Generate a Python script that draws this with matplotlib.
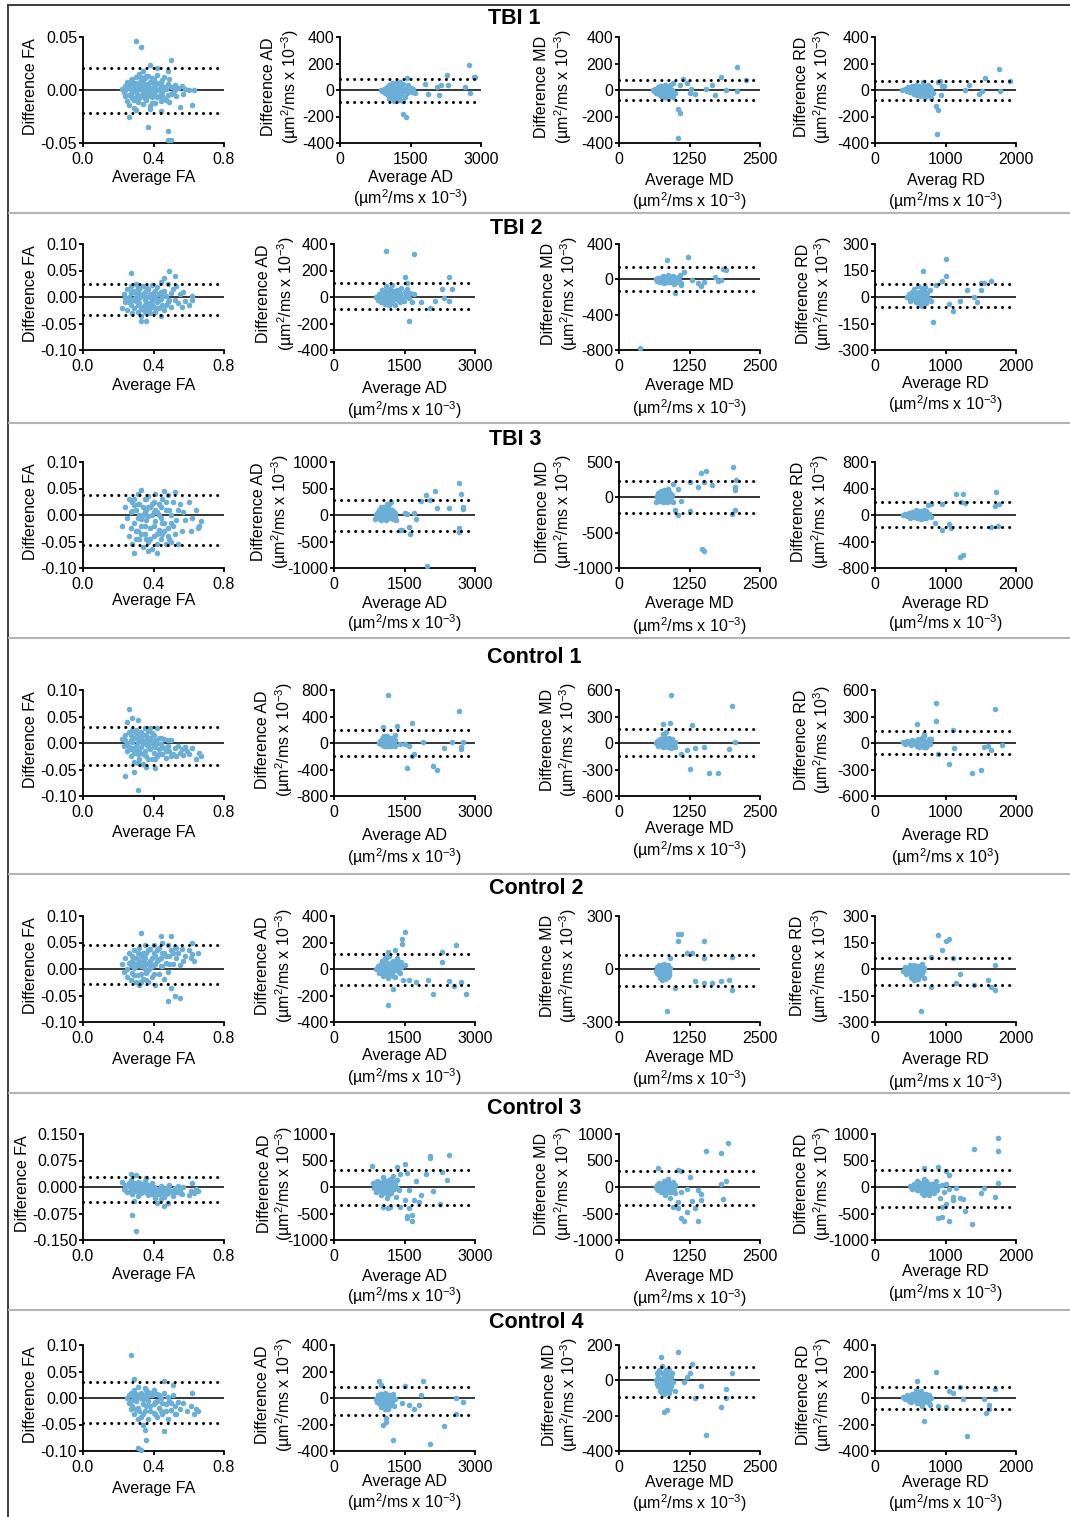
import numpy as np
import matplotlib.pyplot as plt
from matplotlib.lines import Line2D

plt.rcParams['font.family'] = ['Liberation Sans', 'DejaVu Sans']
plt.rcParams['mathtext.fontset'] = 'custom'
plt.rcParams['mathtext.rm'] = 'Liberation Sans'
plt.rcParams['mathtext.it'] = 'Liberation Sans:italic'
plt.rcParams['mathtext.bf'] = 'Liberation Sans:bold'
plt.rcParams['axes.unicode_minus'] = False

# ---- data: (average, difference) pairs ----
tbi1_fa = [(0.22, 0.001), (0.23, -0.002), (0.24, 0.004), (0.24, -0.006), (0.25, 0.008), (0.25, -0.010),
           (0.26, 0.002), (0.26, -0.014), (0.27, 0.006), (0.27, -0.004), (0.28, 0.010), (0.28, -0.008),
           (0.29, 0.003), (0.29, -0.017), (0.30, 0.012), (0.30, -0.002), (0.31, 0.007), (0.31, -0.011),
           (0.32, 0.001), (0.32, 0.015), (0.33, -0.006), (0.33, 0.009), (0.34, -0.013), (0.34, 0.004),
           (0.35, 0.011), (0.35, -0.003), (0.36, 0.006), (0.36, -0.009), (0.37, 0.013), (0.37, -0.001),
           (0.38, 0.008), (0.38, -0.015), (0.39, 0.002), (0.39, -0.007), (0.40, 0.010), (0.40, -0.004),
           (0.41, 0.005), (0.41, -0.012), (0.42, 0.014), (0.42, 0.000), (0.43, -0.006), (0.43, 0.007),
           (0.44, 0.003), (0.44, -0.010), (0.45, 0.009), (0.45, -0.002), (0.46, 0.012), (0.46, -0.008),
           (0.47, 0.001), (0.48, 0.006), (0.48, -0.005), (0.49, 0.010), (0.49, -0.011), (0.50, 0.003),
           (0.51, -0.003), (0.52, 0.005), (0.53, -0.006), (0.54, 0.002), (0.55, -0.016), (0.56, 0.004),
           (0.57, -0.004), (0.58, 0.001), (0.60, 0.000), (0.62, -0.014), (0.63, 0.000), (0.27, 0.001),
           (0.29, 0.007), (0.31, -0.005), (0.33, 0.002), (0.35, -0.008), (0.37, 0.004), (0.39, 0.011),
           (0.41, -0.001), (0.30, -0.019), (0.34, 0.018), (0.30, 0.046), (0.33, 0.041), (0.50, 0.028),
           (0.38, 0.024), (0.42, 0.021), (0.48, 0.018), (0.26, -0.025), (0.37, -0.035), (0.48, -0.039),
           (0.48, -0.047), (0.50, -0.047), (0.44, -0.020), (0.38, -0.018),
           (0.25, 0.003), (0.26, -0.005), (0.27, 0.009), (0.28, -0.001), (0.29, -0.009), (0.30, 0.006),
           (0.31, 0.001), (0.32, -0.008), (0.33, 0.012), (0.34, -0.002), (0.35, 0.004), (0.36, 0.000),
           (0.36, 0.013), (0.37, -0.006), (0.38, 0.002), (0.39, -0.012), (0.40, 0.005), (0.41, 0.008),
           (0.42, -0.007), (0.43, 0.001), (0.44, 0.006), (0.45, -0.006), (0.47, -0.009), (0.50, -0.004),
           (0.52, 0.000), (0.24, 0.000), (0.28, 0.004), (0.32, 0.005), (0.34, 0.008), (0.38, -0.003),
           (0.40, 0.001), (0.44, -0.004), (0.46, 0.003), (0.26, 0.006), (0.30, -0.007)]
tbi1_ad = [(870, 0), (900, -10), (930, 10), (950, -20), (980, 5), (1000, -30), (1010, 20), (1030, -5),
           (1050, 40), (1060, -45), (1080, 10), (1100, -15), (1110, 55), (1120, -60), (1140, 25), (1150, -35),
           (1170, 0), (1180, 45), (1200, -70), (1210, 15), (1230, -20), (1240, 30), (1260, -50), (1270, 60),
           (1290, 5), (1300, -30), (1310, 20), (1330, -80), (1340, 45), (1360, -10), (1380, -55), (1400, 10),
           (1420, -25), (1450, 35), (1480, -5), (1500, 15), (1530, -15), (1560, 10), (1600, -20), (1050, -70),
           (1150, -80), (1250, -75), (1100, 30), (1200, 50), (1320, 0), (1350, -180), (1400, -205),
           (1420, 90), (1800, 45), (1880, -30), (2060, 25), (2100, -40), (2150, 40), (2280, 115), (2300, 40),
           (2650, 20), (2750, 190), (2760, -20), (2850, 100), (2880, 95),
           (1000, 0), (1030, -40), (1070, 25), (1090, -30), (1120, 5), (1160, -55), (1190, 20), (1220, -45),
           (1250, 0), (1280, -35), (1150, 10), (1200, -10), (1100, -50), (1240, -60), (1300, 35), (1130, 40)]
tbi1_md = [(600, 0), (620, -10), (640, 5), (660, -20), (680, 10), (690, -5), (700, 20), (710, -30), (720, 0),
           (730, 15), (740, -15), (750, 30), (760, -40), (770, 5), (780, -10), (790, 20), (800, -25), (810, 35),
           (820, -50), (830, 0), (840, 10), (850, -35), (860, 25), (870, -60), (880, -5), (890, 15), (900, -45),
           (910, 40), (920, -20), (940, 0), (950, -55), (760, -20), (820, 20), (700, -15), (960, 55), (1000, -20),
           (1050, -140), (1080, -170), (1050, -360), (1080, 40), (1130, 80), (1200, 55), (1250, -20), (1280, 10),
           (1350, -30), (1550, 10), (1650, 40), (1700, -35), (1800, 100), (1900, 0), (2100, 170), (2100, -10),
           (2250, 75),
           (680, -25), (700, 5), (720, -20), (740, 25), (760, 0), (780, -35), (800, 10), (820, -10), (840, -30),
           (860, 0), (880, 20), (900, -10), (740, -45), (800, -50), (860, -50), (720, 30)]
tbi1_rd = [(390, 0), (420, 10), (450, -5), (470, 20), (490, -15), (510, 5), (520, 30), (540, -25), (550, 10),
           (570, -10), (580, 40), (600, -35), (610, 15), (630, 0), (640, -45), (650, 25), (660, -10), (680, 60),
           (690, -20), (700, 5), (710, -55), (720, 30), (730, -30), (740, 10), (750, -40), (760, 20), (770, -15),
           (790, -60), (800, 5), (820, -25), (560, -30), (620, 30), (680, -40), (750, 40), (870, -120),
           (890, -150), (880, -330), (900, 60), (920, 70), (950, 30), (980, 30), (930, -40), (1280, 0),
           (1340, 40), (1480, -30), (1520, -10), (1560, 90), (1760, 155), (1770, -10), (1920, 65),
           (500, -5), (530, 10), (560, 20), (590, -15), (610, -20), (640, 10), (660, 15), (680, 0), (700, -15),
           (720, -10), (740, -30), (760, 0), (780, 25), (700, 30), (620, -5), (580, 5)]

tbi2_fa = [(0.22, -0.020), (0.23, 0.005), (0.24, -0.010), (0.25, 0.015), (0.25, -0.025), (0.26, 0.000),
           (0.27, -0.015), (0.27, 0.020), (0.28, -0.005), (0.28, -0.030), (0.29, 0.010), (0.29, -0.020),
           (0.30, 0.025), (0.30, -0.008), (0.31, 0.005), (0.31, -0.028), (0.32, -0.012), (0.32, 0.015),
           (0.33, -0.035), (0.33, 0.002), (0.34, 0.020), (0.34, -0.018), (0.35, -0.005), (0.35, 0.010),
           (0.36, -0.025), (0.36, 0.000), (0.37, 0.015), (0.37, -0.012), (0.38, -0.030), (0.38, 0.005),
           (0.39, 0.022), (0.39, -0.008), (0.40, -0.018), (0.40, 0.010), (0.41, 0.000), (0.41, -0.028),
           (0.42, 0.018), (0.42, -0.010), (0.43, 0.005), (0.43, -0.020), (0.44, 0.028), (0.44, -0.003),
           (0.45, -0.015), (0.46, 0.012), (0.46, -0.025), (0.47, 0.002), (0.48, 0.025), (0.48, -0.010),
           (0.50, 0.008), (0.50, -0.018), (0.51, 0.015), (0.52, -0.005), (0.53, 0.020), (0.54, -0.012),
           (0.55, 0.005), (0.56, -0.018), (0.57, 0.010), (0.58, -0.008), (0.60, -0.015), (0.62, -0.005),
           (0.62, 0.002), (0.30, 0.000), (0.32, -0.002), (0.35, -0.015), (0.38, -0.020), (0.27, 0.046),
           (0.49, 0.050), (0.52, 0.040), (0.46, 0.035), (0.36, -0.045), (0.33, -0.045), (0.44, -0.035),
           (0.24, -0.002), (0.26, -0.010), (0.27, 0.008), (0.29, -0.003), (0.30, 0.012), (0.31, -0.015),
           (0.32, 0.005), (0.33, -0.022), (0.34, 0.005), (0.35, -0.028), (0.36, 0.018), (0.37, -0.020),
           (0.38, 0.000), (0.39, -0.015), (0.40, 0.000), (0.41, 0.012), (0.42, -0.020), (0.43, -0.005),
           (0.44, 0.010), (0.45, 0.002), (0.47, -0.015), (0.49, -0.005), (0.31, 0.018), (0.28, 0.012),
           (0.35, 0.020)]
tbi2_ad = [(900, 0), (930, -20), (960, 20), (990, -40), (1000, 10), (1020, 50), (1040, -10), (1060, 30),
           (1080, -55), (1100, 80), (1110, 0), (1130, -30), (1150, 40), (1170, -15), (1190, 60), (1200, -50),
           (1220, 10), (1240, 90), (1260, -25), (1280, 30), (1300, -60), (1320, 0), (1340, 50), (1360, -20),
           (1380, 20), (1400, -40), (1420, 70), (1450, 0), (1480, -30), (1500, 40), (1530, 10), (1560, 60),
           (1600, -10), (1620, 30), (1650, -40), (1700, 20), (1150, -45), (1250, 45), (1050, 25), (1100, 345),
           (1700, 325), (1500, 150), (1600, -180), (1550, 105), (1850, -40), (2050, -85), (2150, -30),
           (2300, 60), (2350, -10), (2450, 150), (2450, -30), (2500, 60),
           (1000, -25), (1050, 0), (1100, -30), (1120, 20), (1160, 10), (1200, 30), (1230, -20), (1270, 0),
           (1310, 20), (1350, -10), (1400, 30), (1180, -60), (1080, 45), (1440, -20)]
tbi2_md = [(650, 0), (680, -15), (700, 20), (720, -30), (740, 10), (760, -5), (780, 35), (800, -45), (820, 15),
           (840, -20), (860, 50), (880, 0), (900, -35), (920, 25), (940, -10), (960, 40), (980, -55), (1000, 10),
           (1020, -25), (1040, 30), (1060, -5), (1080, 45), (1100, -60), (800, 5), (900, 10), (950, -20),
           (750, -25), (380, -780), (850, 215), (1230, 255), (1150, 80), (1000, -160), (1100, -40), (1300, -10),
           (1400, -40), (1500, -30), (1450, -80), (1700, 30), (1750, -20), (1800, -5), (1850, 120), (1900, 100),
           (700, -5), (730, 15), (770, -15), (790, 25), (830, -5), (850, 20), (870, -25), (890, 30), (910, -5),
           (930, 5), (990, 20), (1030, 0)]
tbi2_rd = [(450, 0), (480, 15), (500, -20), (520, 30), (540, -10), (560, 45), (580, -30), (600, 5), (610, 60),
           (620, -40), (640, 20), (650, -15), (660, 50), (670, -50), (680, 10), (690, 35), (700, -25), (710, 55),
           (720, 0), (730, -35), (740, 25), (760, -10), (780, 40), (800, -20), (600, -5), (700, 15), (680, 150),
           (1000, 215), (820, -140), (870, 70), (950, 90), (1000, 120), (1050, -40), (1100, -80), (1200, -20),
           (1300, 40), (1400, 0), (1450, -30), (1500, 80), (1500, 40), (1550, 80), (1650, 90),
           (500, 5), (530, -5), (560, 10), (590, 20), (620, 30), (640, -20), (660, 5), (680, -30), (700, 40),
           (720, 20), (740, -5), (660, -40), (590, -10)]

tbi3_fa = [(0.22, -0.020), (0.24, 0.015), (0.25, -0.005), (0.26, 0.030), (0.26, -0.040), (0.27, 0.005),
           (0.28, -0.055), (0.28, 0.025), (0.29, -0.015), (0.30, 0.010), (0.30, -0.030), (0.31, 0.040),
           (0.31, -0.005), (0.32, -0.045), (0.32, 0.020), (0.33, 0.048), (0.33, -0.020), (0.34, 0.000),
           (0.34, -0.060), (0.35, 0.030), (0.35, -0.035), (0.36, 0.010), (0.36, -0.010), (0.37, -0.050),
           (0.37, 0.035), (0.38, -0.025), (0.38, 0.015), (0.39, -0.065), (0.39, 0.000), (0.40, 0.025),
           (0.40, -0.040), (0.41, -0.012), (0.41, 0.040), (0.42, -0.055), (0.42, 0.005), (0.43, -0.028),
           (0.43, 0.020), (0.44, -0.045), (0.44, -0.005), (0.45, 0.030), (0.45, -0.035), (0.46, 0.045),
           (0.46, -0.015), (0.47, -0.055), (0.47, 0.010), (0.48, -0.025), (0.48, 0.038), (0.49, -0.045),
           (0.50, 0.000), (0.50, -0.050), (0.51, 0.025), (0.51, -0.020), (0.52, 0.044), (0.53, -0.010),
           (0.54, 0.010), (0.55, 0.020), (0.56, -0.030), (0.57, 0.005), (0.58, -0.010), (0.60, 0.025),
           (0.61, -0.030), (0.62, -0.005), (0.64, 0.010), (0.65, -0.025), (0.66, -0.020), (0.67, -0.012),
           (0.29, 0.018), (0.33, -0.008), (0.35, 0.005), (0.37, -0.002), (0.29, -0.072), (0.37, -0.068),
           (0.42, -0.072), (0.54, -0.055),
           (0.27, -0.025), (0.29, 0.030), (0.30, -0.045), (0.31, 0.020), (0.32, 0.000), (0.33, -0.035),
           (0.34, 0.015), (0.35, -0.020), (0.36, 0.030), (0.37, 0.015), (0.38, -0.045), (0.39, 0.020),
           (0.40, -0.020), (0.41, 0.010), (0.42, -0.035), (0.43, 0.000), (0.44, 0.015), (0.45, -0.015),
           (0.46, -0.030), (0.47, 0.025), (0.48, -0.040), (0.49, 0.010), (0.50, -0.015), (0.52, -0.035),
           (0.28, 0.008), (0.31, -0.030), (0.36, -0.045), (0.40, 0.005)]
tbi3_ad = [(880, -80), (900, 0), (920, 40), (940, -60), (960, 100), (980, -20), (1000, 60), (1010, -100),
           (1030, 20), (1050, 150), (1060, -40), (1080, 80), (1100, -80), (1110, 0), (1130, 200), (1140, -60),
           (1160, 40), (1180, 120), (1200, -30), (1210, 250), (1230, 10), (1250, -70), (1270, 60), (1290, -20),
           (1300, 30), (1320, -100), (1050, -20), (1150, 10), (1200, 70), (1100, 50), (1400, -280), (1450, -290),
           (1500, 40), (1550, 20), (1600, -220), (1620, -350), (1700, 40), (1750, -80), (1850, 260), (1950, 380),
           (1970, -960), (2050, 290), (2150, 460), (2200, 140), (2450, 130), (2650, 600), (2650, -250),
           (2650, -330), (2700, 390), (2750, 160), (2750, 110),
           (950, 30), (990, -40), (1020, 80), (1040, -60), (1060, 40), (1090, -20), (1120, 120), (1150, -30),
           (1170, 80), (1190, 0), (1220, -50), (1240, 100), (1260, 20), (1280, -40), (1000, 150), (1110, -90),
           (1180, 200)]
tbi3_md = [(650, -60), (670, 20), (690, -30), (700, 60), (720, 0), (730, -50), (740, 90), (760, -20), (770, 40),
           (780, -70), (790, 110), (800, 10), (810, -40), (820, 70), (830, -10), (840, 30), (850, -60), (860, 120),
           (870, 0), (880, -30), (890, 50), (900, -55), (910, 20), (920, -15), (940, 40), (950, -65), (760, 30),
           (820, -25), (880, 80), (950, 190), (1000, -180), (1050, -250), (1050, 120), (1100, -50), (1250, 210),
           (1250, -200), (1400, 140), (1450, 340), (1480, -730), (1510, -760), (1500, 210), (1550, 370),
           (1650, 180), (2000, -240), (2030, 430), (2050, 140), (2050, 110), (2050, -180), (2070, 240),
           (680, 0), (710, 30), (730, -20), (750, 50), (770, 0), (790, -20), (800, 80), (820, 20), (840, -40),
           (860, 50), (870, -50), (890, 10), (900, 60), (760, -50), (830, 100), (720, 80)]
tbi3_rd = [(400, 0), (430, 15), (460, -20), (480, 30), (500, -40), (520, 10), (540, 50), (550, -30), (570, 0),
           (580, 70), (600, -50), (610, 20), (630, -10), (640, 60), (650, -60), (660, 30), (680, -20), (690, 80),
           (700, 0), (720, -40), (730, 40), (750, -15), (770, 20), (790, -30), (600, 35), (560, -10), (680, 45),
           (750, 150), (800, 160), (850, -120), (950, 170), (950, -220), (1050, -130), (1080, -200), (1150, 320),
           (1200, -630), (1250, -610), (1250, 320), (1220, 200), (1270, 180), (1650, -180), (1700, 130),
           (1720, 340), (1750, -170), (1760, 160),
           (450, 10), (490, -10), (520, 40), (560, 20), (590, -30), (620, 50), (640, -20), (660, 0), (700, 30),
           (720, 60), (740, -20), (760, 10), (620, -40), (580, 30), (680, -50)]

ctrl1_fa = [(0.22, 0.008), (0.23, -0.005), (0.24, 0.015), (0.25, -0.015), (0.25, 0.000), (0.26, 0.020),
            (0.27, -0.025), (0.27, 0.005), (0.28, -0.010), (0.28, 0.025), (0.29, -0.035), (0.29, 0.010),
            (0.30, -0.005), (0.30, 0.018), (0.31, -0.020), (0.31, 0.002), (0.32, 0.012), (0.32, -0.030),
            (0.33, -0.008), (0.33, 0.020), (0.34, 0.000), (0.34, -0.040), (0.35, 0.015), (0.35, -0.015),
            (0.36, 0.005), (0.36, -0.025), (0.37, 0.022), (0.37, -0.005), (0.38, -0.012), (0.38, 0.010),
            (0.39, -0.030), (0.39, 0.000), (0.40, 0.015), (0.40, -0.018), (0.41, 0.005), (0.41, -0.008),
            (0.42, -0.025), (0.43, 0.010), (0.43, -0.012), (0.44, -0.002), (0.45, -0.020), (0.46, 0.008),
            (0.46, -0.010), (0.47, -0.028), (0.48, -0.005), (0.49, -0.015), (0.50, 0.005), (0.51, -0.020),
            (0.52, -0.010), (0.53, -0.025), (0.54, -0.005), (0.55, -0.018), (0.56, -0.012), (0.57, -0.022),
            (0.58, -0.008), (0.59, -0.015), (0.60, -0.020), (0.62, -0.010), (0.64, -0.030), (0.66, -0.018),
            (0.67, -0.025), (0.33, 0.005), (0.36, -0.002), (0.30, -0.012), (0.26, 0.065), (0.28, 0.047),
            (0.25, 0.040), (0.31, 0.043), (0.38, 0.028), (0.42, 0.028), (0.24, -0.062), (0.29, -0.055),
            (0.31, -0.088), (0.41, -0.048), (0.36, -0.045),
            (0.24, 0.005), (0.26, -0.008), (0.27, 0.015), (0.28, 0.002), (0.29, -0.018), (0.30, 0.025),
            (0.31, 0.010), (0.32, -0.015), (0.33, 0.012), (0.34, -0.020), (0.35, 0.003), (0.36, 0.015),
            (0.37, -0.030), (0.38, 0.002), (0.39, 0.018), (0.40, -0.005), (0.41, -0.030), (0.42, 0.000),
            (0.43, -0.020), (0.44, 0.010), (0.45, -0.008), (0.47, -0.015), (0.48, 0.005), (0.50, -0.025),
            (0.31, -0.038), (0.27, -0.012), (0.35, 0.028)]
ctrl1_ad = [(950, 0), (980, 30), (1000, -20), (1020, 60), (1040, 10), (1060, -40), (1080, 80), (1100, 20),
            (1110, -10), (1130, 100), (1150, -50), (1170, 40), (1190, 0), (1210, -30), (1230, 70), (1250, 10),
            (1270, -20), (1290, 50), (1300, -45), (1060, -15), (1120, 45), (1180, -25), (1000, 35), (1050, 90),
            (1150, 720), (1050, 240), (1350, 250), (1650, 300), (1300, 120), (1400, -20), (1500, -20),
            (1550, -380), (1650, -200), (1700, -160), (1900, 20), (2100, -350), (2200, -410), (2350, -80),
            (2500, 20), (2650, 490), (2700, -60), (2750, 10), (2700, -90), (1600, -40),
            (1000, -10), (1030, 20), (1070, -25), (1090, 40), (1120, 0), (1140, 70), (1160, -20), (1200, 20),
            (1220, -50), (1240, 40), (1280, -10), (1100, -40), (1180, 80), (1060, 110)]
ctrl1_md = [(650, 0), (680, 20), (700, -30), (720, 50), (740, -10), (760, 10), (780, -50), (800, 80), (810, 0),
            (820, -20), (840, 120), (850, 30), (860, -40), (880, 60), (890, -10), (900, 20), (920, -60), (940, 40),
            (960, 0), (980, -30), (1000, 10), (760, 40), (830, -35), (870, 5), (930, 540), (900, 230), (780, 220),
            (1000, -40), (1100, -120), (1200, -80), (1250, -290), (1300, 200), (1350, -60), (1500, -40),
            (1600, -340), (1750, -340), (1950, -70), (2000, 420), (2050, 10),
            (700, 10), (730, -20), (750, 30), (770, -5), (790, 20), (800, -30), (830, 40), (850, -10), (870, 30),
            (900, -30), (930, 0), (950, -20), (780, 100), (820, 60)]
ctrl1_rd = [(400, 10), (430, -10), (460, 20), (490, 0), (510, -20), (530, 30), (550, -5), (570, 15), (590, -30),
            (610, 40), (620, 0), (640, -15), (660, 60), (670, 20), (690, -40), (700, 80), (720, 0), (740, -20),
            (760, 30), (780, -10), (800, 50), (650, -25), (580, 25), (600, 220), (870, 450), (870, 250),
            (900, -120), (1050, -240), (1100, 150), (1120, -60), (1380, -340), (1500, -310), (1550, -40),
            (1600, -30), (1650, -80), (1700, 390), (1800, -20),
            (450, 0), (480, 15), (520, -10), (560, 20), (600, 5), (630, 30), (650, 10), (680, -10), (700, 20),
            (730, -40), (750, 0), (770, 40), (620, -40), (690, 100)]

ctrl2_fa = [(0.22, 0.010), (0.23, -0.005), (0.24, 0.020), (0.25, 0.000), (0.25, -0.015), (0.26, 0.030),
            (0.27, 0.008), (0.27, -0.020), (0.28, 0.015), (0.28, -0.008), (0.29, 0.035), (0.29, 0.002),
            (0.30, -0.025), (0.30, 0.020), (0.31, 0.010), (0.31, -0.012), (0.32, 0.040), (0.32, -0.030),
            (0.33, 0.005), (0.33, 0.025), (0.34, -0.018), (0.34, 0.015), (0.35, 0.000), (0.35, 0.045),
            (0.36, -0.008), (0.36, 0.030), (0.37, 0.012), (0.37, -0.025), (0.38, 0.038), (0.38, 0.002),
            (0.39, -0.015), (0.39, 0.020), (0.40, 0.045), (0.40, 0.008), (0.41, -0.030), (0.41, 0.025),
            (0.42, 0.015), (0.43, -0.010), (0.43, 0.040), (0.44, 0.020), (0.45, 0.005), (0.45, 0.050),
            (0.46, -0.018), (0.46, 0.030), (0.47, 0.012), (0.48, 0.045), (0.48, -0.005), (0.49, 0.025),
            (0.50, 0.035), (0.51, 0.010), (0.52, 0.042), (0.53, 0.020), (0.54, 0.030), (0.55, 0.008),
            (0.56, 0.038), (0.57, 0.015), (0.58, 0.025), (0.60, 0.035), (0.61, 0.020), (0.62, 0.028),
            (0.63, 0.015), (0.65, 0.030), (0.30, 0.005), (0.34, 0.008), (0.37, -0.002), (0.33, 0.068),
            (0.44, 0.062), (0.50, 0.062), (0.62, 0.050), (0.50, -0.035), (0.52, -0.050), (0.55, -0.055),
            (0.48, -0.060),
            (0.26, 0.012), (0.28, 0.025), (0.29, -0.012), (0.30, 0.010), (0.31, 0.030), (0.32, 0.015),
            (0.33, -0.010), (0.34, 0.030), (0.35, 0.020), (0.36, 0.010), (0.37, 0.035), (0.38, 0.015),
            (0.39, 0.005), (0.40, 0.030), (0.41, 0.010), (0.42, 0.035), (0.43, 0.018), (0.44, 0.005),
            (0.45, 0.030), (0.47, 0.025), (0.49, 0.010), (0.51, 0.030), (0.53, 0.040), (0.36, -0.020),
            (0.33, -0.025), (0.40, -0.010)]
ctrl2_ad = [(900, 0), (930, 20), (960, -30), (990, 40), (1000, -10), (1030, 60), (1050, -50), (1070, 10),
            (1090, 80), (1110, -20), (1130, 30), (1150, -70), (1170, 100), (1190, 0), (1210, -40), (1230, 50),
            (1250, -15), (1270, 20), (1290, -60), (1310, 40), (1340, -5), (1370, 60), (1400, -30), (1430, 15),
            (1460, -80), (1500, 30), (1100, 55), (1200, -25), (1050, 25), (1150, 130), (1300, 140), (1350, 80),
            (1450, 190), (1450, 230), (1500, 280), (1150, -270), (1250, -150), (1600, -80), (1750, -100),
            (2000, -80), (2100, -190), (2300, 130), (2300, 50), (2450, -90), (2550, -130), (2600, 180),
            (2700, -100), (2800, -190),
            (1000, 20), (1040, -20), (1080, 30), (1100, -40), (1130, 0), (1160, 40), (1190, -30), (1220, 10),
            (1260, -50), (1300, 0), (1330, 30), (1380, -20), (1420, 50), (1120, 90), (1250, 60)]
ctrl2_md = [(650, -10), (670, 10), (690, -30), (710, 20), (720, -50), (740, 0), (750, 25), (760, -20), (770, -60),
            (780, 10), (790, -40), (800, 30), (810, -10), (820, -55), (830, 15), (840, -25), (850, 0), (860, -45),
            (870, 20), (880, -15), (890, -35), (900, 5), (740, -35), (820, 5), (850, -240), (900, 60),
            (1000, -110), (1050, 200), (1100, 200), (1050, 160), (1200, 90), (1300, 90), (1350, -70), (1500, 160),
            (1500, 60), (1500, -80), (1650, -80), (1800, -70), (1950, -60), (2000, -120), (2000, 70),
            (680, -20), (700, 0), (730, -10), (750, -40), (770, 0), (790, -20), (810, 15), (830, -35), (850, -15),
            (870, -5), (880, -30), (760, -30), (800, -5)]
ctrl2_rd = [(400, -10), (420, 10), (440, -30), (460, 5), (480, -20), (500, 20), (510, -45), (530, 0), (550, -15),
            (560, 25), (580, -35), (600, 10), (610, -55), (620, -5), (640, 15), (650, -30), (660, 30), (680, -10),
            (690, -50), (700, 5), (550, -60), (620, -25), (650, -240), (800, -100), (800, 70), (900, 190),
            (950, 110), (1000, 160), (1050, 170), (1100, 60), (1150, -80), (1200, -30), (1400, -90), (1600, -60),
            (1650, -100), (1700, 20), (1700, -120),
            (430, -15), (470, -5), (500, -25), (520, 10), (540, -30), (570, 0), (590, -20), (610, 15), (630, -40),
            (660, -10), (670, -25), (600, -35), (530, -50)]

ctrl3_fa = [(0.22, 0.015), (0.23, -0.005), (0.24, 0.005), (0.25, -0.015), (0.26, 0.010), (0.27, -0.008),
            (0.27, 0.020), (0.28, 0.000), (0.28, -0.020), (0.29, 0.012), (0.30, -0.010), (0.30, 0.005),
            (0.31, -0.025), (0.31, 0.015), (0.32, -0.003), (0.33, 0.008), (0.33, -0.018), (0.34, 0.002),
            (0.35, -0.012), (0.35, 0.018), (0.36, -0.005), (0.37, 0.006), (0.37, -0.022), (0.38, -0.008),
            (0.39, 0.010), (0.40, -0.015), (0.40, 0.000), (0.41, -0.030), (0.42, -0.005), (0.43, -0.020),
            (0.44, 0.004), (0.45, -0.012), (0.46, -0.028), (0.47, -0.002), (0.48, -0.018), (0.49, 0.005),
            (0.50, -0.010), (0.51, -0.025), (0.52, -0.003), (0.53, -0.015), (0.54, 0.002), (0.55, -0.008),
            (0.56, -0.020), (0.57, 0.000), (0.60, -0.022), (0.61, -0.010), (0.62, 0.012), (0.63, -0.018),
            (0.64, -0.005), (0.65, -0.012), (0.29, -0.002), (0.32, 0.010), (0.36, 0.004), (0.39, -0.020),
            (0.27, 0.038), (0.30, 0.035), (0.36, 0.025), (0.29, -0.040), (0.28, -0.080), (0.30, -0.125),
            (0.42, -0.045), (0.46, -0.055), (0.48, -0.045), (0.44, -0.035),
            (0.24, -0.008), (0.26, 0.002), (0.27, -0.015), (0.28, 0.008), (0.29, -0.012), (0.30, 0.000),
            (0.31, 0.005), (0.32, -0.015), (0.33, 0.000), (0.34, -0.008), (0.35, 0.008), (0.36, -0.015),
            (0.37, -0.005), (0.38, 0.005), (0.39, -0.010), (0.41, -0.012), (0.42, -0.020), (0.43, -0.008),
            (0.44, -0.018), (0.45, -0.003), (0.46, -0.012), (0.47, -0.020), (0.49, -0.008), (0.51, -0.012),
            (0.53, -0.005), (0.55, -0.018)]
ctrl3_ad = [(820, 80), (850, -20), (880, 40), (900, -100), (920, 120), (950, 0), (970, -60), (990, 60),
            (1010, -150), (1030, 20), (1050, 180), (1060, -80), (1080, 100), (1100, -20), (1120, -200), (1140, 40),
            (1160, 140), (1180, -50), (1200, 80), (1220, -120), (1240, 0), (1260, 200), (1280, -30), (1300, 60),
            (1320, -180), (1350, 130), (1380, -60), (1400, 250), (1000, 10), (1100, 60), (1200, -10),
            (1150, -120), (800, 400), (1350, 380), (1500, 440), (1550, 270), (1750, 120), (1950, 250),
            (2050, 580), (2050, 550), (2300, 280), (2400, 140), (2450, 610), (1050, -380), (1150, -400),
            (1200, -370), (1400, -380), (1500, -250), (1550, -550), (1550, -590), (1600, -400), (1650, -520),
            (1650, -650), (1700, -250), (1800, -280), (1850, -150), (2100, -70), (2250, -320), (1600, -60),
            (850, 60), (900, 20), (930, -40), (960, 100), (980, -20), (1000, 50), (1040, -60), (1070, 140),
            (1090, 40), (1110, -100), (1130, 80), (1170, 20), (1190, -80), (1210, 150), (1230, -40), (1250, 60),
            (1290, 100), (1330, -20), (1040, -120), (1150, -150)]
ctrl3_md = [(650, 0), (670, 40), (690, -50), (710, 80), (720, -20), (740, 20), (750, -100), (770, 60), (780, -40),
            (800, 120), (810, 0), (820, -150), (840, 40), (850, -70), (860, 150), (880, -20), (890, 60),
            (900, -200), (920, 10), (930, -90), (950, 100), (970, -40), (990, 30), (1000, -120), (780, 10),
            (860, -30), (700, 350), (1050, 330), (1100, 300), (1250, 180), (1550, 670), (1800, 650), (1930, 830),
            (1900, 120), (1800, 50), (1850, -230), (1050, -290), (1050, -400), (950, -380), (1100, -580),
            (1150, -640), (1200, -470), (1300, -260), (1350, -400), (1400, -640), (1400, -60), (1450, -240),
            (1450, -130), (1100, -100), (1200, -30),
            (680, -30), (700, 30), (730, -60), (760, 20), (790, -20), (800, 60), (830, -40), (850, 40),
            (870, -100), (880, 80), (900, -40), (910, 40), (940, -60), (960, 20), (800, -80), (740, 60)]
ctrl3_rd = [(500, 20), (530, -30), (560, 60), (590, -10), (610, 100), (630, -60), (650, 30), (670, -120),
            (690, 150), (700, 0), (720, -40), (740, 80), (760, -150), (780, 20), (800, -80), (820, 50), (840, -20),
            (860, 110), (880, -60), (900, 10), (920, -200), (950, 40), (980, -100), (1000, 60), (650, -20),
            (750, 40), (700, 350), (900, 380), (1000, 300), (1050, 220), (1000, -320), (950, -380), (900, -580),
            (950, -570), (1050, -650), (1100, -250), (1150, -20), (1200, -200), (1250, -220), (1280, -450),
            (1380, -700), (1400, 710), (1500, -120), (1550, -10), (1700, -180), (1750, 920), (1750, 680),
            (1750, 70), (1050, -40), (1100, -180),
            (550, -20), (580, 30), (600, -50), (620, 60), (640, -10), (660, 80), (680, -60), (700, 40),
            (720, -90), (730, 120), (760, 0), (780, -40), (800, 60), (830, -120), (850, 20), (870, -30),
            (700, -150), (600, 120)]

ctrl4_fa = [(0.25, 0.000), (0.26, -0.010), (0.27, 0.010), (0.27, -0.020), (0.28, 0.005), (0.29, -0.030),
            (0.29, 0.015), (0.30, -0.005), (0.31, 0.020), (0.31, -0.018), (0.32, 0.002), (0.33, -0.035),
            (0.33, 0.010), (0.34, -0.012), (0.35, 0.018), (0.35, -0.025), (0.36, 0.000), (0.37, -0.040),
            (0.37, 0.012), (0.38, -0.015), (0.39, 0.005), (0.40, -0.028), (0.40, 0.015), (0.41, -0.008),
            (0.42, -0.035), (0.42, 0.008), (0.43, -0.018), (0.44, 0.000), (0.45, -0.030), (0.46, 0.010),
            (0.47, -0.012), (0.48, -0.040), (0.49, -0.005), (0.50, -0.022), (0.51, 0.005), (0.52, -0.015),
            (0.53, -0.030), (0.54, -0.008), (0.55, -0.020), (0.57, -0.010), (0.59, -0.025), (0.61, -0.015),
            (0.63, -0.030), (0.64, -0.020), (0.65, -0.025), (0.30, 0.008), (0.34, -0.002), (0.38, 0.006),
            (0.27, 0.081), (0.29, 0.035), (0.46, 0.032), (0.51, 0.025), (0.62, 0.010), (0.31, -0.095),
            (0.33, -0.098), (0.36, -0.080), (0.35, -0.060), (0.46, -0.062), (0.34, -0.050),
            (0.26, 0.005), (0.27, -0.005), (0.28, -0.015), (0.29, 0.000), (0.30, -0.020), (0.31, 0.005),
            (0.32, -0.025), (0.33, 0.000), (0.34, -0.030), (0.35, 0.005), (0.36, -0.015), (0.37, -0.005),
            (0.38, -0.025), (0.39, 0.010), (0.40, -0.012), (0.41, -0.030), (0.42, -0.005), (0.43, 0.005),
            (0.44, -0.025), (0.45, -0.010), (0.47, -0.025), (0.48, 0.002), (0.50, -0.010), (0.52, -0.030),
            (0.31, -0.040), (0.36, 0.015)]
ctrl4_ad = [(900, -10), (930, 20), (950, -40), (970, 0), (990, -70), (1010, 30), (1030, -20), (1050, 10),
            (1070, -60), (1090, 40), (1110, -30), (1130, 0), (1150, -80), (1170, 20), (1190, -45), (1210, 5),
            (1230, -25), (1250, 30), (1270, -60), (1300, -10), (1000, -30), (1100, -5), (1200, -15), (950, 130),
            (1000, 100), (1050, -200), (1100, -150), (1100, -180), (1250, -320), (1450, -40), (1500, 90),
            (1600, -50), (1700, -80), (1800, -50), (1850, 20), (1900, 130), (2050, -350), (2350, -210),
            (2600, -120), (2600, 0), (2750, -30),
            (920, -30), (960, 10), (990, -20), (1020, -50), (1040, 20), (1060, -30), (1080, 0), (1120, -50),
            (1140, 20), (1160, -20), (1180, -60), (1220, -30), (1260, 0), (1000, 30), (1080, -80)]
ctrl4_md = [(650, 0), (670, 40), (690, -30), (710, 60), (720, -60), (740, 10), (750, -20), (760, 80), (780, -40),
            (790, 20), (800, -80), (810, 50), (820, 0), (840, -50), (850, 30), (860, -20), (880, 60), (890, -70),
            (900, 10), (920, -30), (940, 40), (950, -10), (770, -5), (830, -15), (750, 130), (800, -180),
            (850, -170), (1000, -60), (1050, 160), (1150, -10), (1200, 20), (1250, 40), (1300, 90), (1350, -100),
            (1450, -30), (1550, -310), (1800, -150), (1900, -100), (1900, -50), (2000, 40),
            (680, -20), (700, 20), (730, -40), (760, -10), (770, 40), (790, -60), (800, 0), (820, -40), (830, 60),
            (850, -60), (870, 0), (880, -40), (900, -50), (920, 20), (760, -70)]
ctrl4_rd = [(400, 10), (430, -10), (460, 20), (490, 0), (510, -30), (530, 30), (550, -5), (570, 15), (590, -40),
            (600, 40), (620, 0), (640, -20), (650, 50), (670, -60), (690, 10), (700, -30), (720, 30), (740, -10),
            (760, 20), (780, -50), (800, 0), (550, 25), (620, -35), (600, 130), (700, -170), (870, 200),
            (900, -60), (1000, -70), (1050, 50), (1100, 40), (1200, 80), (1250, -10), (1300, -290), (1550, -10),
            (1580, -110), (1620, -50), (1620, -80), (1700, 70),
            (450, 0), (480, -20), (510, 10), (540, -15), (560, 30), (580, -20), (600, 10), (630, -30), (650, 20),
            (660, -40), (680, 30), (700, 0), (720, -20), (740, 0), (760, -40), (580, 60)]

# limits of agreement (upper, lower) per panel
loa = [
    [(0.021, -0.022), (82, -94), (76, -76), (70, -72)],
    [(0.024, -0.034), (106, -88), (143, -132), (75, -55)],
    [(0.037, -0.056), (285, -305), (235, -225), (195, -180)],
    [(0.031, -0.042), (190, -190), (160, -150), (140, -125)],
    [(0.046, -0.028), (110, -120), (80, -95), (65, -90)],
    [(0.028, -0.042), (320, -340), (300, -340), (320, -370)],
    [(0.030, -0.048), (80, -130), (75, -95), (80, -80)],
]

row_titles = ['TBI 1', 'TBI 2', 'TBI 3', 'Control 1', 'Control 2', 'Control 3', 'Control 4']
panels = [
    [tbi1_fa, tbi1_ad, tbi1_md, tbi1_rd],
    [tbi2_fa, tbi2_ad, tbi2_md, tbi2_rd],
    [tbi3_fa, tbi3_ad, tbi3_md, tbi3_rd],
    [ctrl1_fa, ctrl1_ad, ctrl1_md, ctrl1_rd],
    [ctrl2_fa, ctrl2_ad, ctrl2_md, ctrl2_rd],
    [ctrl3_fa, ctrl3_ad, ctrl3_md, ctrl3_rd],
    [ctrl4_fa, ctrl4_ad, ctrl4_md, ctrl4_rd],
]

fa10 = [-0.10, -0.05, 0, 0.05, 0.10]
s400 = [-400, -200, 0, 200, 400]
k1 = [-1000, -500, 0, 500, 1000]
yticks = [
    [[-0.05, 0, 0.05], s400, s400, s400],
    [fa10, s400, [-800, -400, 0, 400], [-300, -150, 0, 150, 300]],
    [fa10, k1, [-1000, -500, 0, 500], [-800, -400, 0, 400, 800]],
    [fa10, [-800, -400, 0, 400, 800], [-600, -300, 0, 300, 600], [-600, -300, 0, 300, 600]],
    [fa10, s400, [-300, 0, 300], [-300, -150, 0, 150, 300]],
    [[-0.150, -0.075, 0, 0.075, 0.150], k1, k1, k1],
    [fa10, s400, [-400, -200, 0, 200], s400],
]
xticks = [[0, 0.4, 0.8], [0, 1500, 3000], [0, 1250, 2500], [0, 1000, 2000]]
xticklabels = [['0.0', '0.4', '0.8'], ['0', '1500', '3000'], ['0', '1250', '2500'], ['0', '1000', '2000']]

unit = '(µm$^2$/ms x 10$^{-3}$)'
unit_pos = '(µm$^2$/ms x 10$^{3}$)'
measures = ['FA', 'AD', 'MD', 'RD']

# ---- layout (pixels of the 1070 x 1517 canvas) ----
W, H = 1070, 1517
row_top = [37, 244, 462, 690, 916, 1134, 1345]
col_left = [83, 334, 619, 875]
AX_W, AX_H = 141, 106
title_x = [514, 516, 515, 534, 536, 534, 536]
title_y = [18, 229, 439, 657, 889, 1108, 1323]
# label line centres (px)
xlab_y = [[177, 177, 180, 180], [385, 388, 385, 383], [600, 603, 603, 603], [832, 835, 828, 835],
          [1059, 1055, 1057, 1059], [1274, 1276, 1276, 1271], [1488, 1481, 1482, 1482]]
xunit_y = [[0, 199, 202, 202], [0, 411, 409, 405], [0, 624, 627, 624], [0, 858, 851, 858],
           [0, 1078, 1080, 1083], [0, 1297, 1299, 1294], [0, 1503, 1504, 1504]]
ylab_x = [[30, 268, 541, 801], [30, 263, 548, 803], [30, 258, 542, 798], [30, 262, 547, 801],
          [30, 262, 547, 797], [22, 264, 541, 801], [30, 262, 549, 803]]
yunit_x = [[0, 291, 564, 823], [0, 287, 570, 824], [0, 281, 564, 821], [0, 285, 569, 823],
           [0, 285, 569, 821], [0, 285, 564, 823], [0, 285, 570, 824]]

fig = plt.figure(figsize=(W / 100, H / 100), dpi=100)


def fig_line(x0, y0, x1, y1, color, lw):
    fig.add_artist(Line2D([x0 / W, x1 / W], [1 - y0 / H, 1 - y1 / H],
                          transform=fig.transFigure, color=color, lw=lw))


def px_text(x, y, s, rot=0, **kw):
    # place text so that the glyph centre lands on (x, y) pixels
    if rot:
        fig.text((x + 5) / W, 1 - y / H, s, rotation=90, rotation_mode='anchor',
                 ha='center', va='baseline', **kw)
    else:
        fig.text(x / W, 1 - (y + 5) / H, s, ha='center', va='baseline', **kw)


fig_line(8, 5, 1070, 5, '#3c3c3c', 1.4)
fig_line(8, 5, 8, 1517, '#3c3c3c', 1.4)
for sy in [213, 423, 638, 874, 1093, 1310]:
    fig_line(9, sy, 1070, sy, '#b4b4b4', 1.5)

FS = 11.5
for r in range(7):
    fig.text(title_x[r] / W, 1 - title_y[r] / H, row_titles[r], ha='center', va='center',
             fontsize=15.5, fontweight='bold')
    for c in range(4):
        left = col_left[c] + (6 if (r == 0 and c == 1) else 0)
        ax = fig.add_axes([left / W, 1 - (row_top[r] + AX_H) / H, AX_W / W, AX_H / H])
        pts = np.array(panels[r][c])
        xmax = xticks[c][-1]
        yt = yticks[r][c]

        ax.plot([0, xmax], [0, 0], color='k', lw=1.1, zorder=2)
        for v in loa[r][c]:
            ax.plot([0, xmax], [v, v], color='k', lw=2.2, linestyle=(0, (0.01, 2.3)),
                    dash_capstyle='round', zorder=4, clip_on=False)
        ax.scatter(pts[:, 0], pts[:, 1], s=16, color='#6baed6', linewidths=0, zorder=3, clip_on=False)

        ax.set_xlim(0, xmax)
        ax.set_ylim(yt[0], yt[-1])
        ax.set_xticks(xticks[c])
        ax.set_xticklabels(xticklabels[c])
        ax.set_yticks(yt)
        if c == 0:
            dec = 3 if r == 5 else 2
            ax.set_yticklabels([f'{v:.{dec}f}' for v in yt])
        else:
            ax.set_yticklabels([str(int(v)) for v in yt])

        for side in ['top', 'right']:
            ax.spines[side].set_visible(False)
        for side in ['left', 'bottom']:
            ax.spines[side].set_linewidth(1.3)
        ax.tick_params(direction='out', length=3.2, width=1.3, labelsize=FS)
        ax.tick_params(axis='x', pad=3.3)
        ax.tick_params(axis='y', pad=1.0)
        ax.patch.set_alpha(0)

        # axis titles as free text at the reference positions
        m = measures[c]
        xc = left + AX_W / 2
        yc = row_top[r] + AX_H / 2 - 3
        if c == 0:
            px_text(ylab_x[r][c], yc, 'Difference FA', rot=90, fontsize=FS)
            px_text(xc, xlab_y[r][c], 'Average FA', fontsize=FS)
        else:
            u = unit_pos if (r == 3 and c == 3) else unit
            xname = 'Averag RD' if (r == 0 and c == 3) else 'Average ' + m
            px_text(ylab_x[r][c], yc, 'Difference ' + m, rot=90, fontsize=FS)
            px_text(yunit_x[r][c], yc, u, rot=90, fontsize=FS)
            px_text(xc, xlab_y[r][c], xname, fontsize=FS)
            px_text(xc, xunit_y[r][c], u, fontsize=FS)

fig.savefig('out.png', dpi=100)
